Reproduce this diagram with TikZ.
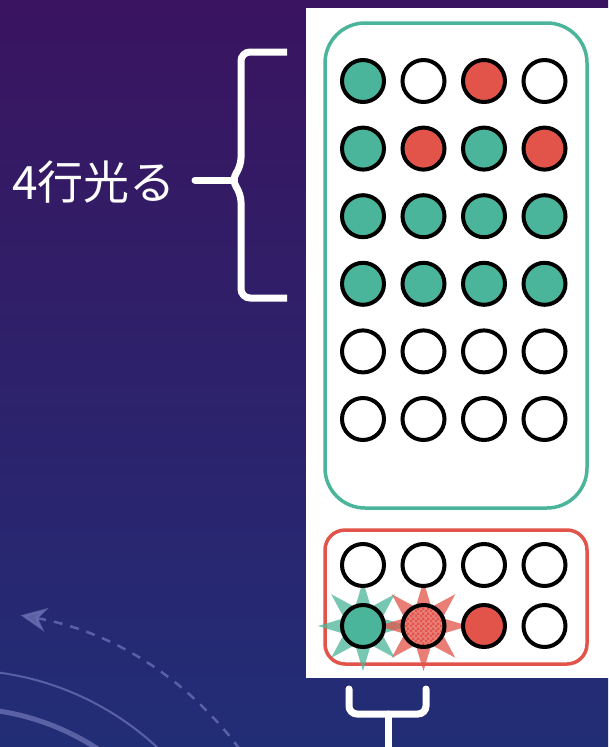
\documentclass[tikz,border=0pt]{standalone}
\usepackage{xcolor}
\usepackage{fontspec}
\setmainfont{Noto Sans CJK JP}
\usepackage{tikz}
\usetikzlibrary{shapes.geometric, arrows.meta, positioning, patterns}
\definecolor{ledgreen}{RGB}{74,181,154}
\definecolor{ledred}{RGB}{226,84,74}
\definecolor{bgtop}{RGB}{58,20,96}
\definecolor{bgmid}{RGB}{44,33,110}
\definecolor{bgbot}{RGB}{33,46,118}
\definecolor{orbit}{RGB}{104,110,176}
\pgfdeclarepatternformonly{finechecker}{\pgfpointorigin}{\pgfqpoint{5pt}{5pt}}{\pgfqpoint{5pt}{5pt}}{
  \pgfpathrectangle{\pgfpointorigin}{\pgfqpoint{2.5pt}{2.5pt}}
  \pgfpathrectangle{\pgfqpoint{2.5pt}{2.5pt}}{\pgfqpoint{2.5pt}{2.5pt}}
  \pgfusepath{fill}
}
\tikzset{
  led/.style={circle, draw=black, line width=4pt,
    minimum size=42pt, inner sep=0pt},
  offled/.style={led, fill=white},
  greenled/.style={led, fill=ledgreen},
  redled/.style={led, fill=ledred},
  checkled/.style={led, pattern=finechecker, pattern color=ledred},
  greenframe/.style={draw=ledgreen, line width=3.5pt, rounded corners=40pt},
  redframe/.style={draw=ledred, line width=3.5pt, rounded corners=20pt},
  burst/.style={star, star points=8, star point ratio=2.2,
    minimum size=90pt, inner sep=0pt, fill opacity=0.75},
  bracestroke/.style={draw=white, line width=7pt, line cap=round},
  rowtext/.style={text=white, font=\fontsize{46}{52}\selectfont, inner sep=0pt},
  orbitline/.style={draw=orbit, opacity=0.8}
}

\begin{document}
\begin{tikzpicture}[x=1pt, y=-1pt]
  \useasboundingbox (0,0) rectangle (608,747);

  % Background
  \fill[top color=bgtop, middle color=bgmid, bottom color=bgbot] (0,0) rectangle (608,747);
  \begin{scope}
    \clip (0,0) rectangle (608,747);
    \coordinate (hub) at (-40,960);
    \draw[orbitline, line width=2pt] ([shift={(hub)}]-90:290) arc[start angle=-90, end angle=0, radius=290];
    \draw[orbitline, line width=5pt] ([shift={(hub)}]-90:252) arc[start angle=-90, end angle=0, radius=252];
    \draw[orbitline, line width=2.5pt, dash pattern=on 9pt off 8pt, arrows={Stealth[length=26pt, width=24pt]-}]
      ([shift={(hub)}]-80:350) arc[start angle=-80, end angle=-20, radius=350];
  \end{scope}

  % Panel
  \fill[white] (306,8) rectangle (612,678);
  \draw[greenframe] (325,23) rectangle (587,508);
  \draw[redframe] (325,530) rectangle (587,664);

  % Bursts
  \node[burst, fill=ledgreen] (burst-green) at (363,626) {};
  \node[burst, fill=ledred] (burst-red) at (423.5,626) {};

  % Upper LEDs
  \foreach \r/\cols in {1/{greenled,offled,redled,offled},
                        2/{greenled,redled,greenled,redled},
                        3/{greenled,greenled,greenled,greenled},
                        4/{greenled,greenled,greenled,greenled},
                        5/{offled,offled,offled,offled},
                        6/{offled,offled,offled,offled}} {
    \foreach \s [count=\c] in \cols
      \node[\s] (led-\r-\c) at ({363+60.5*(\c-1)}, {81+67.6*(\r-1)}) {};
  }

  % Lower LEDs
  \foreach \s [count=\c] in {offled,offled,offled,offled}
    \node[\s] (low-1-\c) at ({363+60.5*(\c-1)}, 565) {};
  \foreach \s [count=\c] in {greenled,checkled,redled,offled}
    \node[\s] (low-2-\c) at ({363+60.5*(\c-1)}, 626) {};

  % Row brace
  \node[rowtext, anchor=west] (rowlabel) at (12,182) {4行光る};
  \coordinate (ltip) at (231,180);
  \draw[bracestroke, line cap=butt, rounded corners=9pt] (287,52) -- (241,52) -- (241,167) -- (ltip) -- (241,193) -- (241,298) -- (287,298);
  \draw[bracestroke] (195,180) -- (ltip);

  % Column brace
  \coordinate (btip) at (388,750);
  \draw[bracestroke, rounded corners=8pt] (349,689) -- (349,714) -- (426,714) -- (426,689);
  \draw[bracestroke] (388,714) -- (btip);
\end{tikzpicture}
\end{document}
